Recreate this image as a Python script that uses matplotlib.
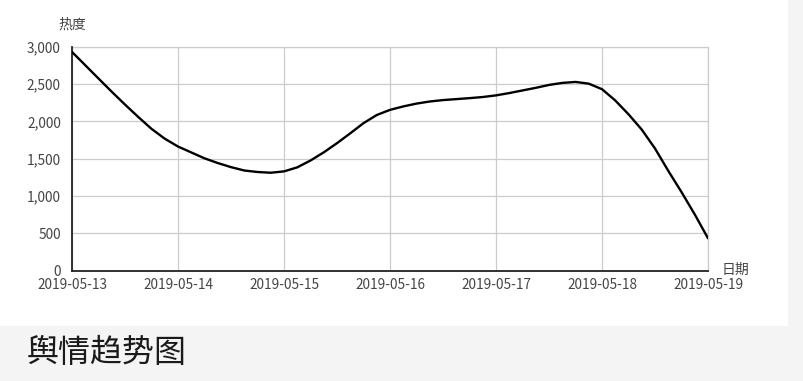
import matplotlib
matplotlib.use('Agg')
import matplotlib.pyplot as plt
import matplotlib.dates as mdates
from matplotlib.patches import Rectangle
from matplotlib.ticker import FuncFormatter
import numpy as np
import pandas as pd

plt.rcParams['font.family'] = ['Noto Sans CJK SC', 'DejaVu Sans']

# readings every 3 hours, 2019-05-13 00:00 .. 2019-05-19 00:00
times = pd.date_range('2019-05-13', '2019-05-19', freq='3h')
heat = [2930, 2752, 2574, 2397, 2225, 2059, 1900, 1768,
        1663, 1584, 1505, 1442, 1387, 1342, 1322, 1312,
        1330, 1384, 1476, 1585, 1708, 1840, 1976, 2085,
        2154, 2200, 2238, 2266, 2285, 2298, 2311, 2326,
        2348, 2379, 2414, 2449, 2488, 2515, 2528, 2505,
        2431, 2280, 2095, 1890, 1637, 1338, 1053, 754, 434]
day_labels = ['2019-05-13', '2019-05-14', '2019-05-15', '2019-05-16',
              '2019-05-17', '2019-05-18', '2019-05-19']
y_ticks = [0, 500, 1000, 1500, 2000, 2500, 3000]

W, H = 804, 381
fig = plt.figure(figsize=(W / 100, H / 100), dpi=100)
fig.patch.set_facecolor('#f4f4f4')
fig.patches.append(Rectangle((0, 1 - 326 / H), 788 / W, 326 / H,
                             transform=fig.transFigure, facecolor='white',
                             edgecolor='none', zorder=-5))

ax = fig.add_axes([72 / W, 1 - 270.7 / H, (708 - 72) / W, (270.7 - 46.7) / H])
ax.set_facecolor('none')
ax.set_zorder(2)

x = mdates.date2num(times.to_pydatetime())
ax.plot(x, heat, color='black', lw=1.7, solid_joinstyle='round',
        solid_capstyle='round', zorder=3)

day_x = mdates.date2num(pd.to_datetime(day_labels).to_pydatetime())
ax.set_xlim(day_x[0], day_x[-1])
ax.set_ylim(0, 3000)
ax.set_xticks(day_x)
ax.set_xticklabels(day_labels)
ax.set_yticks(y_ticks)
ax.yaxis.set_major_formatter(FuncFormatter(lambda v, p: f'{int(v):,}'))

ax.grid(True, color='#cccccc', lw=0.9)
ax.set_axisbelow(True)
for s in ['top', 'right']:
    ax.spines[s].set_visible(False)
ax.spines['left'].set_color('#222222')
ax.spines['bottom'].set_color('#222222')
ax.spines['left'].set_linewidth(1.3)
ax.spines['bottom'].set_linewidth(1.3)
ax.tick_params(length=0, labelsize=9.8, labelcolor='#444444')
ax.tick_params(axis='x', pad=5)
ax.tick_params(axis='y', pad=8)
# top / right gridlines at axis edges
ax.axhline(3000, color='#cccccc', lw=0.9, zorder=1, clip_on=False)
ax.axvline(day_x[-1], color='#cccccc', lw=0.9, zorder=1, clip_on=False)

fig.text(72 / W, 1 - 25 / H, '热度', ha='center', va='center',
         fontsize=10, color='#444444')
fig.text(722 / W, 1 - 270 / H, '日期', ha='left', va='center',
         fontsize=10, color='#444444')

fig.text(27 / W, 1 - 353 / H, '舆情趋势图', ha='left', va='center',
         fontsize=23, color='#1a1a1a')

fig.savefig('out.png', dpi=100, facecolor=fig.get_facecolor())
